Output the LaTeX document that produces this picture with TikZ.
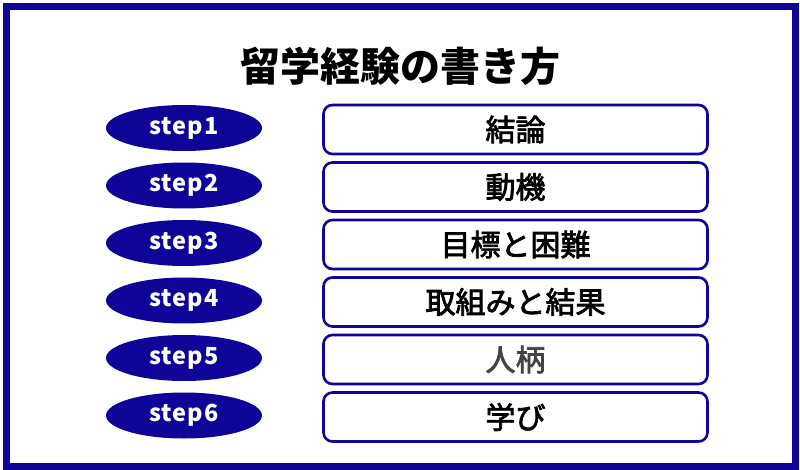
\documentclass[tikz,border=0pt]{standalone}
\usepackage{fontspec}
\setmainfont{Noto Sans CJK JP}
\newfontfamily\midfont{Noto Sans CJK JP}[FakeBold=2.6]
\newfontfamily\stepfont{Noto Sans CJK JP}[LetterSpace=4]
\usetikzlibrary{shapes.geometric}
\usetikzlibrary{positioning}

\definecolor{navy}{RGB}{14,4,152}
\definecolor{softgray}{RGB}{68,68,68}

\tikzset{
  stepoval/.style={ellipse, fill=navy, text=white, inner sep=0pt,
    minimum width=156pt, minimum height=46pt,
    font=\stepfont\bfseries\fontsize{23.5}{23.5}\selectfont},
  itembox/.style={draw=navy, line width=2.6pt, rounded corners=9pt,
    inner sep=0pt, minimum width=384pt, minimum height=49pt,
    font=\midfont\fontsize{30}{30}\selectfont},
}

\begin{document}
\begin{tikzpicture}[x=1pt,y=-1pt]
    \useasboundingbox (0,0) rectangle (800,470);

    % outer frame
    \draw[navy, line width=7pt] (6.5,6.5) rectangle (795,466);

    % title
    \node[font=\bfseries\fontsize{40}{40}\selectfont] (title) at (400,66) {留学経験の書き方};

    % steps and contents
    \foreach \i/\lbl/\col in {1/結論/black, 2/動機/black, 3/目標と困難/black,
                              4/取組みと結果/black, 5/人柄/softgray, 6/学び/black} {
        \node[stepoval] (s\i) at (184,{128+57.5*(\i-1)}) {step\i};
        \node[itembox, text=\col] (b\i) at (515.5,{129.5+57.5*(\i-1)}) {\lbl};
    }
\end{tikzpicture}
\end{document}
